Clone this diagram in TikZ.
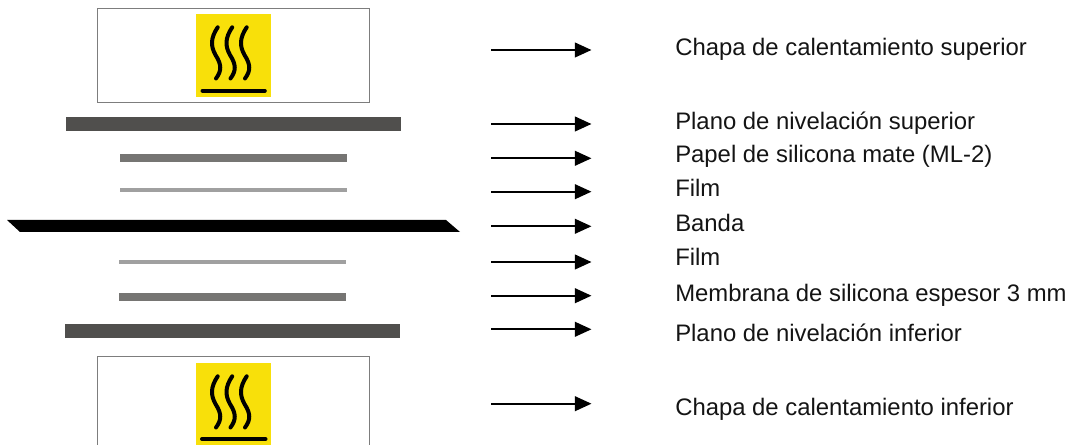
\documentclass[tikz,border=0pt]{standalone}
\usepackage{fontspec}
\setmainfont{Liberation Sans}
\usetikzlibrary{arrows.meta}
\tikzset{
  px/.style={x=0.75pt,y=-0.75pt},
  bar/.style={inner sep=0pt,outer sep=0pt,anchor=north west},
  plane/.style={bar,fill=planegray,minimum width=251pt,minimum height=10.5pt},
  sheet/.style={bar,fill=sheetgray,minimum width=170.5pt,minimum height=6pt},
  filmbar/.style={bar,fill=filmgray,minimum width=170.5pt,minimum height=3pt},
  heater/.style={bar,draw=boxgray,line width=0.6pt,minimum width=204pt,minimum height=70.5pt},
  icon/.style={bar,fill=signyellow,minimum width=56pt},
  wave/.style={line width=3pt,line cap=round,black},
  lbl/.style={anchor=base west,inner sep=0pt,font=\fontsize{17.9pt}{21pt}\selectfont,text=labelblack},
  pointer/.style={line width=1.6pt,-{Triangle[length=12.5pt,width=11pt]},black},
}
\definecolor{planegray}{RGB}{80,79,77}
\definecolor{sheetgray}{RGB}{118,117,115}
\definecolor{filmgray}{RGB}{160,160,160}
\definecolor{boxgray}{RGB}{125,125,125}
\definecolor{signyellow}{RGB}{248,224,10}
\definecolor{labelblack}{RGB}{20,20,20}
\newcommand{\heatwave}[2]{%
  \draw[wave] (#1+2.2,#2+27.3) .. controls (#1-5,#2+38) and (#1-5,#2+46) .. (#1,#2+55)
     .. controls (#1+6.5,#2+65) and (#1+6,#2+71) .. (#1+0.5,#2+78.5);}
\begin{document}
\begin{tikzpicture}[px]
\useasboundingbox (0,0) rectangle (1071,445);
% upper heater
\node[heater] (hs) at (97,8) {};
\node[icon,minimum height=62.6pt] (is) at (196.3,14) {};
\heatwave{215.5}{0}\heatwave{230}{0}\heatwave{244.5}{0}
\draw[line width=3pt,line cap=round] (202.5,90.7) -- (264.8,90.7);
% layers
\node[plane] (ps) at (66,117) {};
\node[sheet] (m1) at (120,154) {};
\node[filmbar] (f1) at (120,188) {};
\fill[black] (7,220) -- (446,220) -- (460,232) -- (20,232) -- cycle;
\node[filmbar] (f2) at (119,260) {};
\node[sheet] (m2) at (119,293) {};
\node[plane] (pi) at (65,324) {};
% lower heater
\draw[boxgray,line width=0.6pt] (97.5,445) |- (369.5,356) -- (369.5,445);
\node[icon,minimum height=61.5pt] (ii) at (196,363) {};
\heatwave{215.5}{349}\heatwave{230}{349}\heatwave{244.5}{349}
\draw[line width=3pt,line cap=round] (202,439) -- (265.5,439);
% labels
\node[lbl] (l1) at (675,56) {Chapa de calentamiento superior};
\node[lbl] (l2) at (675,130) {Plano de nivelación superior};
\node[lbl] (l3) at (675,162.7) {Papel de silicona mate (ML-2)};
\node[lbl] (l4) at (675,196.7) {Film};
\node[lbl] (l5) at (675,231.7) {Banda};
\node[lbl] (l6) at (675,265.7) {Film};
\node[lbl] (l7) at (675,301) {Membrana de silicona espesor 3 mm};
\node[lbl] (l8) at (675,341) {Plano de nivelación inferior};
\node[lbl] (l9) at (675,415.7) {Chapa de calentamiento inferior};
% arrows
\foreach \n/\y in {1/50,2/124,3/158.3,4/191.7,5/226.3,6/262,7/295.7,8/329.3,9/403.7}{
  \coordinate (as\n) at (491,\y);
  \coordinate (ae\n) at (591.5,\y);
  \draw[pointer] (as\n) -- (ae\n);
}
\end{tikzpicture}
\end{document}
